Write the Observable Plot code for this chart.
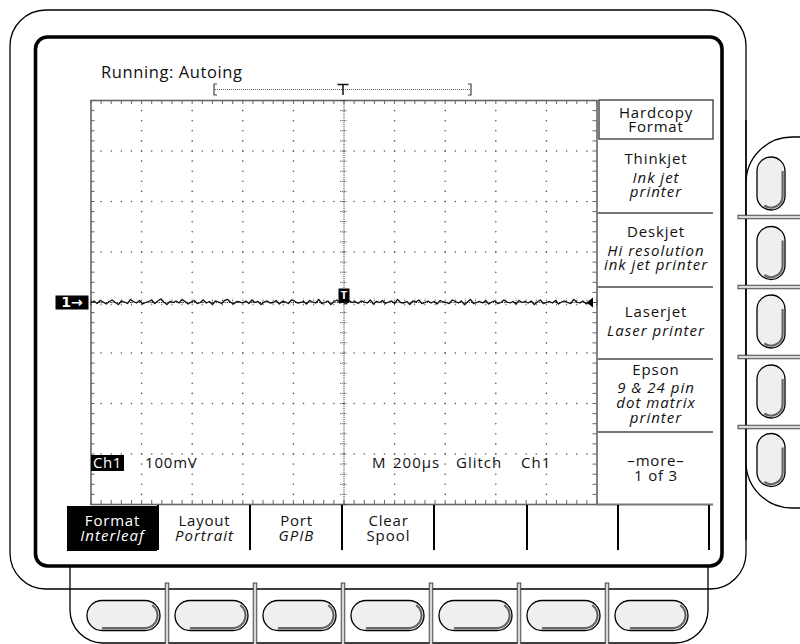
<!DOCTYPE html>
<html><head><meta charset="utf-8">
<script src="https://cdn.jsdelivr.net/npm/d3@7"></script>
<script src="https://cdn.jsdelivr.net/npm/@observablehq/plot@0.6"></script>
<style>
html,body{margin:0;padding:0;background:#fff;}
#chart svg{display:block;}
</style></head><body><div id="chart"></div>
<script>
// ---------------- data ----------------
const statusText = "Running: Autoing";
const timePerDiv = 200;      // µs / div
const voltsPerDiv = 100;     // mV / div
const sampleStep = 12;       // µs between trace samples
const traceMv = [
 0,3,-2,4,1,-3,2,5,0,-4,
 3,1,-2,6,2,-1,4,-3,0,2,
 5,-2,3,7,1,-4,2,0,3,-1,
 6,2,-3,1,4,-2,0,5,-1,2,
 -4,3,1,-2,4,6,0,-3,2,1,
 -1,3,-2,5,0,2,-4,1,3,-1,
 0,4,-3,2,1,-2,5,3,-1,0,
 2,-3,4,1,-1,6,-2,0,3,-4,
 2,5,-1,1,-3,4,0,2,-2,3,
 1,-1,5,-3,2,0,4,-2,1,3,
 -2,6,0,-1,2,-4,3,1,5,-2,
 0,3,-1,2,-3,4,1,0,-2,5,
 2,-1,3,-4,1,6,-2,0,2,-1,
 4,-3,1,3,-2,0,5,1,-1,2,
 -3,4,0,2,-1,3,-4,1,5,-2,
 0,2,-1,4,-3,1,3,0,-2,6,
 1,-1,3,-2,0
];
const triggerTime = 0;
const channelLevel = 0;
const channelLabel = "1→";
const readoutLeft = ["Ch1", "100mV"];
const readoutRight = ["M", "200µs", "Glitch", "Ch1"];
const sideTitle = ["Hardcopy", "Format"];
const sideItems = [
  {title: "Thinkjet", sub: ["Ink jet", "printer"]},
  {title: "Deskjet", sub: ["Hi resolution", "ink jet printer"]},
  {title: "Laserjet", sub: ["Laser printer"]},
  {title: "Epson", sub: ["9 & 24 pin", "dot matrix", "printer"]},
  {title: "–more–", sub: ["1 of 3"], plain: true}
];
const bottomItems = [
  {top: "Format", sub: "Interleaf", selected: true},
  {top: "Layout", sub: "Portrait"},
  {top: "Port", sub: "GPIB"},
  {top: "Clear", sub: "Spool", plain: true},
  {top: "", sub: ""}, {top: "", sub: ""}, {top: "", sub: ""}
];

// ---------------- layout ----------------
const W = 800, H = 644;
const gx0 = 90.5, gx1 = 596.5, gy0 = 100, gy1 = 504;
const xDom = [-5 * timePerDiv, 5 * timePerDiv];
const yDom = [-4 * voltsPerDiv, 4 * voltsPerDiv];
const trace = traceMv.map((v, i) => ({t: xDom[0] + i * sampleStep, v}));

const minorX = d3.range(-25, 26).map(i => i * timePerDiv / 5);
const minorY = d3.range(-20, 21).map(i => i * voltsPerDiv / 5);
const majorX = [-4,-3,-2,-1,1,2,3,4].map(k => k * timePerDiv);
const majorY = [-3,-2,-1,1,2,3].map(k => k * voltsPerDiv);
const rowDots = majorY.flatMap(y => minorX.slice(1, -1).map(x => ({x, y})));
const colDots = majorX.flatMap(x => minorY.slice(1, -1).map(y => ({x, y})));
const tx = timePerDiv * 0.08, ty = voltsPerDiv * 0.08;

const rectSym = (w, h) => ({draw(ctx) { ctx.rect(-w / 2, -h / 2, w, h); }});
const triLeft = {draw(ctx) { ctx.moveTo(-3.5, 0); ctx.lineTo(3, -5); ctx.lineTo(3, 5); ctx.closePath(); }};

const gray = "#666";
const plot = Plot.plot({
  width: W, height: H,
  marginLeft: gx0, marginRight: W - gx1, marginTop: gy0, marginBottom: H - gy1,
  x: {domain: xDom, axis: null},
  y: {domain: yDom, axis: null},
  style: {background: "transparent", overflow: "visible"},
  marks: [
    Plot.frame({stroke: gray, strokeWidth: 1.6}),
    Plot.dot(rowDots, {x: "x", y: "y", r: 0.8, fill: "#555", stroke: null}),
    Plot.dot(colDots, {x: "x", y: "y", r: 0.8, fill: "#555", stroke: null}),
    Plot.ruleX(minorX, {x: d => d, y1: () => yDom[1], y2: () => yDom[1] - ty, stroke: gray}),
    Plot.ruleX(minorX, {x: d => d, y1: () => yDom[0], y2: () => yDom[0] + ty, stroke: gray}),
    Plot.ruleY(minorY, {y: d => d, x1: () => xDom[0], x2: () => xDom[0] + tx, stroke: gray}),
    Plot.ruleY(minorY, {y: d => d, x1: () => xDom[1], x2: () => xDom[1] - tx, stroke: gray}),
    Plot.ruleX([0], {stroke: "#222", strokeDasharray: "1,1.2"}),
    Plot.ruleY([0], {stroke: "#222", strokeDasharray: "1,1.2"}),
    Plot.ruleY(minorY, {y: d => d, x1: () => -tx * 0.8, x2: () => tx * 0.8, stroke: "#333", strokeDasharray: "1,1"}),
    Plot.ruleX(minorX, {x: d => d, y1: () => -ty * 0.8, y2: () => ty * 0.8, stroke: "#333", strokeDasharray: "1,1"}),
    Plot.line(trace, {x: "t", y: "v", stroke: "#111", strokeWidth: 1.3}),
    // channel 1 ground marker
    Plot.dot([{x: xDom[0], y: channelLevel}], {x: "x", y: "y", dx: -19, symbol: rectSym(33, 14), fill: "#000", stroke: null}),
    Plot.text([{x: xDom[0], y: channelLevel, s: channelLabel}], {x: "x", y: "y", text: "s", dx: -19, fill: "#fff", fontSize: 14, fontWeight: "bold", fontFamily: "DejaVu Sans"}),
    // trigger marker
    Plot.dot([{x: triggerTime, y: channelLevel}], {x: "x", y: "y", dy: -7, symbol: rectSym(11, 14), fill: "#000", stroke: null}),
    Plot.text([{x: triggerTime, y: channelLevel}], {x: "x", y: "y", text: () => "T", dy: -7, fill: "#fff", fontSize: 11, fontWeight: "bold", fontFamily: "Open Sans"}),
    // level arrow
    Plot.dot([{x: xDom[1], y: channelLevel}], {x: "x", y: "y", dx: -7, symbol: triLeft, fill: "#000", stroke: null})
  ]
});

// ---------------- instrument chrome ----------------
const svg = d3.select(plot);
svg.attr("font-family", "'Open Sans', sans-serif");
const bg = svg.insert("g", ":first-child");
const fg = svg.append("g");

// bezel
bg.append("rect").attr("x", 10).attr("y", 10).attr("width", 736).attr("height", 579).attr("rx", 36)
  .attr("fill", "#fff").attr("stroke", "#000").attr("stroke-width", 1.3);
// right button panel
bg.append("rect").attr("x", 746).attr("y", 137).attr("width", 110).attr("height", 371).attr("rx", 46)
  .attr("fill", "#fff").attr("stroke", "#000").attr("stroke-width", 1.3);
bg.append("line").attr("x1", 746).attr("x2", 746).attr("y1", 120).attr("y2", 540).attr("stroke", "#000").attr("stroke-width", 1.3);
// bottom button panel
bg.append("path").attr("d", "M70,567 L70,610 A33,33 0 0 0 103,643 L675,643 A33,33 0 0 0 708,610 L708,567")
  .attr("fill", "none").attr("stroke", "#000").attr("stroke-width", 1.3);
// screen
bg.append("rect").attr("x", 35.5).attr("y", 37).attr("width", 686.5).attr("height", 529).attr("rx", 12)
  .attr("fill", "#fff").attr("stroke", "#000").attr("stroke-width", 3.6);

// separators between buttons
[217, 287, 357, 427].forEach(y => bg.append("rect").attr("x", 738).attr("y", y - 1.8).attr("width", 80).attr("height", 3.6)
  .attr("fill", "#d8d8d8").attr("stroke", "#222").attr("stroke-width", 0.8));
[167, 255, 343, 431, 519, 607].forEach(x => bg.append("rect").attr("x", x - 1.8).attr("y", 583).attr("width", 3.6).attr("height", 80)
  .attr("fill", "#d8d8d8").attr("stroke", "#222").attr("stroke-width", 0.8));

function pillH(cx, cy, w, h) {
  const r = h / 2, x = cx - w / 2, y = cy - h / 2, i = 2.4, ri = r - i, a = 55 * Math.PI / 180;
  bg.append("rect").attr("x", x).attr("y", y).attr("width", w).attr("height", h).attr("rx", r)
    .attr("fill", "#efefef").attr("stroke", "#000").attr("stroke-width", 1.3);
  bg.append("path").attr("d", `M${x + r},${y + h - i} L${x + w - r},${y + h - i} A${ri},${ri} 0 0 0 ${x + w - r + ri * Math.cos(a)},${y + r - ri * Math.sin(a)}`)
    .attr("fill", "none").attr("stroke", "#666").attr("stroke-width", 2.2);
}
function pillV(cx, cy, w, h) {
  const r = w / 2, x = cx - w / 2, y = cy - h / 2, i = 2.4, ri = r - i, a = 125 * Math.PI / 180;
  bg.append("rect").attr("x", x).attr("y", y).attr("width", w).attr("height", h).attr("rx", r)
    .attr("fill", "#efefef").attr("stroke", "#000").attr("stroke-width", 1.3);
  bg.append("path").attr("d", `M${x + w - i},${y + r} L${x + w - i},${y + h - r} A${ri},${ri} 0 0 1 ${x + r + ri * Math.cos(a)},${y + h - r + ri * Math.sin(a)}`)
    .attr("fill", "none").attr("stroke", "#666").attr("stroke-width", 2.2);
}
[123.5, 211.5, 299.5, 387.5, 475.5, 563.5, 651.5].forEach(cx => pillH(cx, 615.5, 73, 30));
[183.5, 253, 321.5, 391.5, 460].forEach(cy => pillV(771, cy, 28, 53));

function txt(g, x, y, s, o = {}) {
  return g.append("text").attr("x", x).attr("y", y).text(s)
    .attr("text-anchor", o.anchor || "middle")
    .attr("font-size", o.size || 15)
    .attr("font-style", o.italic ? "italic" : "normal")
    .attr("letter-spacing", o.ls ?? 0.8)
    .attr("fill", o.fill || "#111");
}

// status line and record bracket
txt(fg, 101, 78, statusText, {anchor: "start", size: 16.5, ls: 0.6});
fg.append("path").attr("d", "M217,84 L214,84 L214,95 L217,95 M468,84 L471,84 L471,95 L468,95").attr("fill", "none").attr("stroke", "#444").attr("stroke-width", 1.2);
fg.append("line").attr("x1", 215).attr("x2", 470).attr("y1", 89.5).attr("y2", 89.5).attr("stroke", "#666").attr("stroke-dasharray", "1,1");
fg.append("path").attr("d", "M337.5,84.5 L348.5,84.5 M343,84.5 L343,95").attr("fill", "none").attr("stroke", "#111").attr("stroke-width", 1.5);

// readouts
fg.append("rect").attr("x", 91).attr("y", 455).attr("width", 33).attr("height", 16).attr("fill", "#000");
txt(fg, 107.5, 468, readoutLeft[0], {fill: "#fff", size: 15, ls: 0.6});
txt(fg, 145, 468, readoutLeft[1], {anchor: "start", size: 15, ls: 0.8});
[372, 393, 456, 521].forEach((x, k) => txt(fg, x, 468, readoutRight[k], {anchor: "start", size: 15, ls: 1}));

// side menu
const mx = 656;
fg.append("rect").attr("x", 599).attr("y", 100).attr("width", 114).attr("height", 39).attr("fill", "#fff").attr("stroke", "#333").attr("stroke-width", 1.3);
txt(fg, mx, 118, sideTitle[0]);
txt(fg, mx, 132, sideTitle[1]);
[213, 287, 359, 432, 504.5].forEach(y => fg.append("line").attr("x1", 597).attr("x2", 713).attr("y1", y).attr("y2", y).attr("stroke", "#777").attr("stroke-width", 2));
const sideY = [
  [164, 183, 197],
  [237, 256, 270],
  [317, 336],
  [375, 393, 408, 423],
  [466, 481]
];
sideItems.forEach((it, k) => {
  txt(fg, mx, sideY[k][0], it.title, {ls: it.plain ? 0.8 : 0.9});
  it.sub.forEach((s, j) => txt(fg, mx, sideY[k][j + 1], s, {italic: !it.plain, ls: it.plain ? 0.8 : 1}));
});

// bottom menu
const bx = [67, 158, 250, 342, 434, 527, 618, 709];
fg.append("rect").attr("x", 67).attr("y", 506).attr("width", 90).attr("height", 45).attr("fill", "#000");
bx.slice(1).forEach(x => fg.append("line").attr("x1", x).attr("x2", x).attr("y1", 505).attr("y2", 550).attr("stroke", "#000").attr("stroke-width", 2));
bottomItems.forEach((it, k) => {
  const cx = (bx[k] + bx[k + 1]) / 2 + (k === 0 ? 0 : 0.5);
  const col = it.selected ? "#fff" : "#111";
  txt(fg, cx, 526, it.top, {fill: col, ls: 0.8});
  txt(fg, cx, 541, it.sub, {fill: col, italic: !it.plain, ls: 1});
});

document.getElementById("chart").appendChild(plot);
</script>
</body></html>
